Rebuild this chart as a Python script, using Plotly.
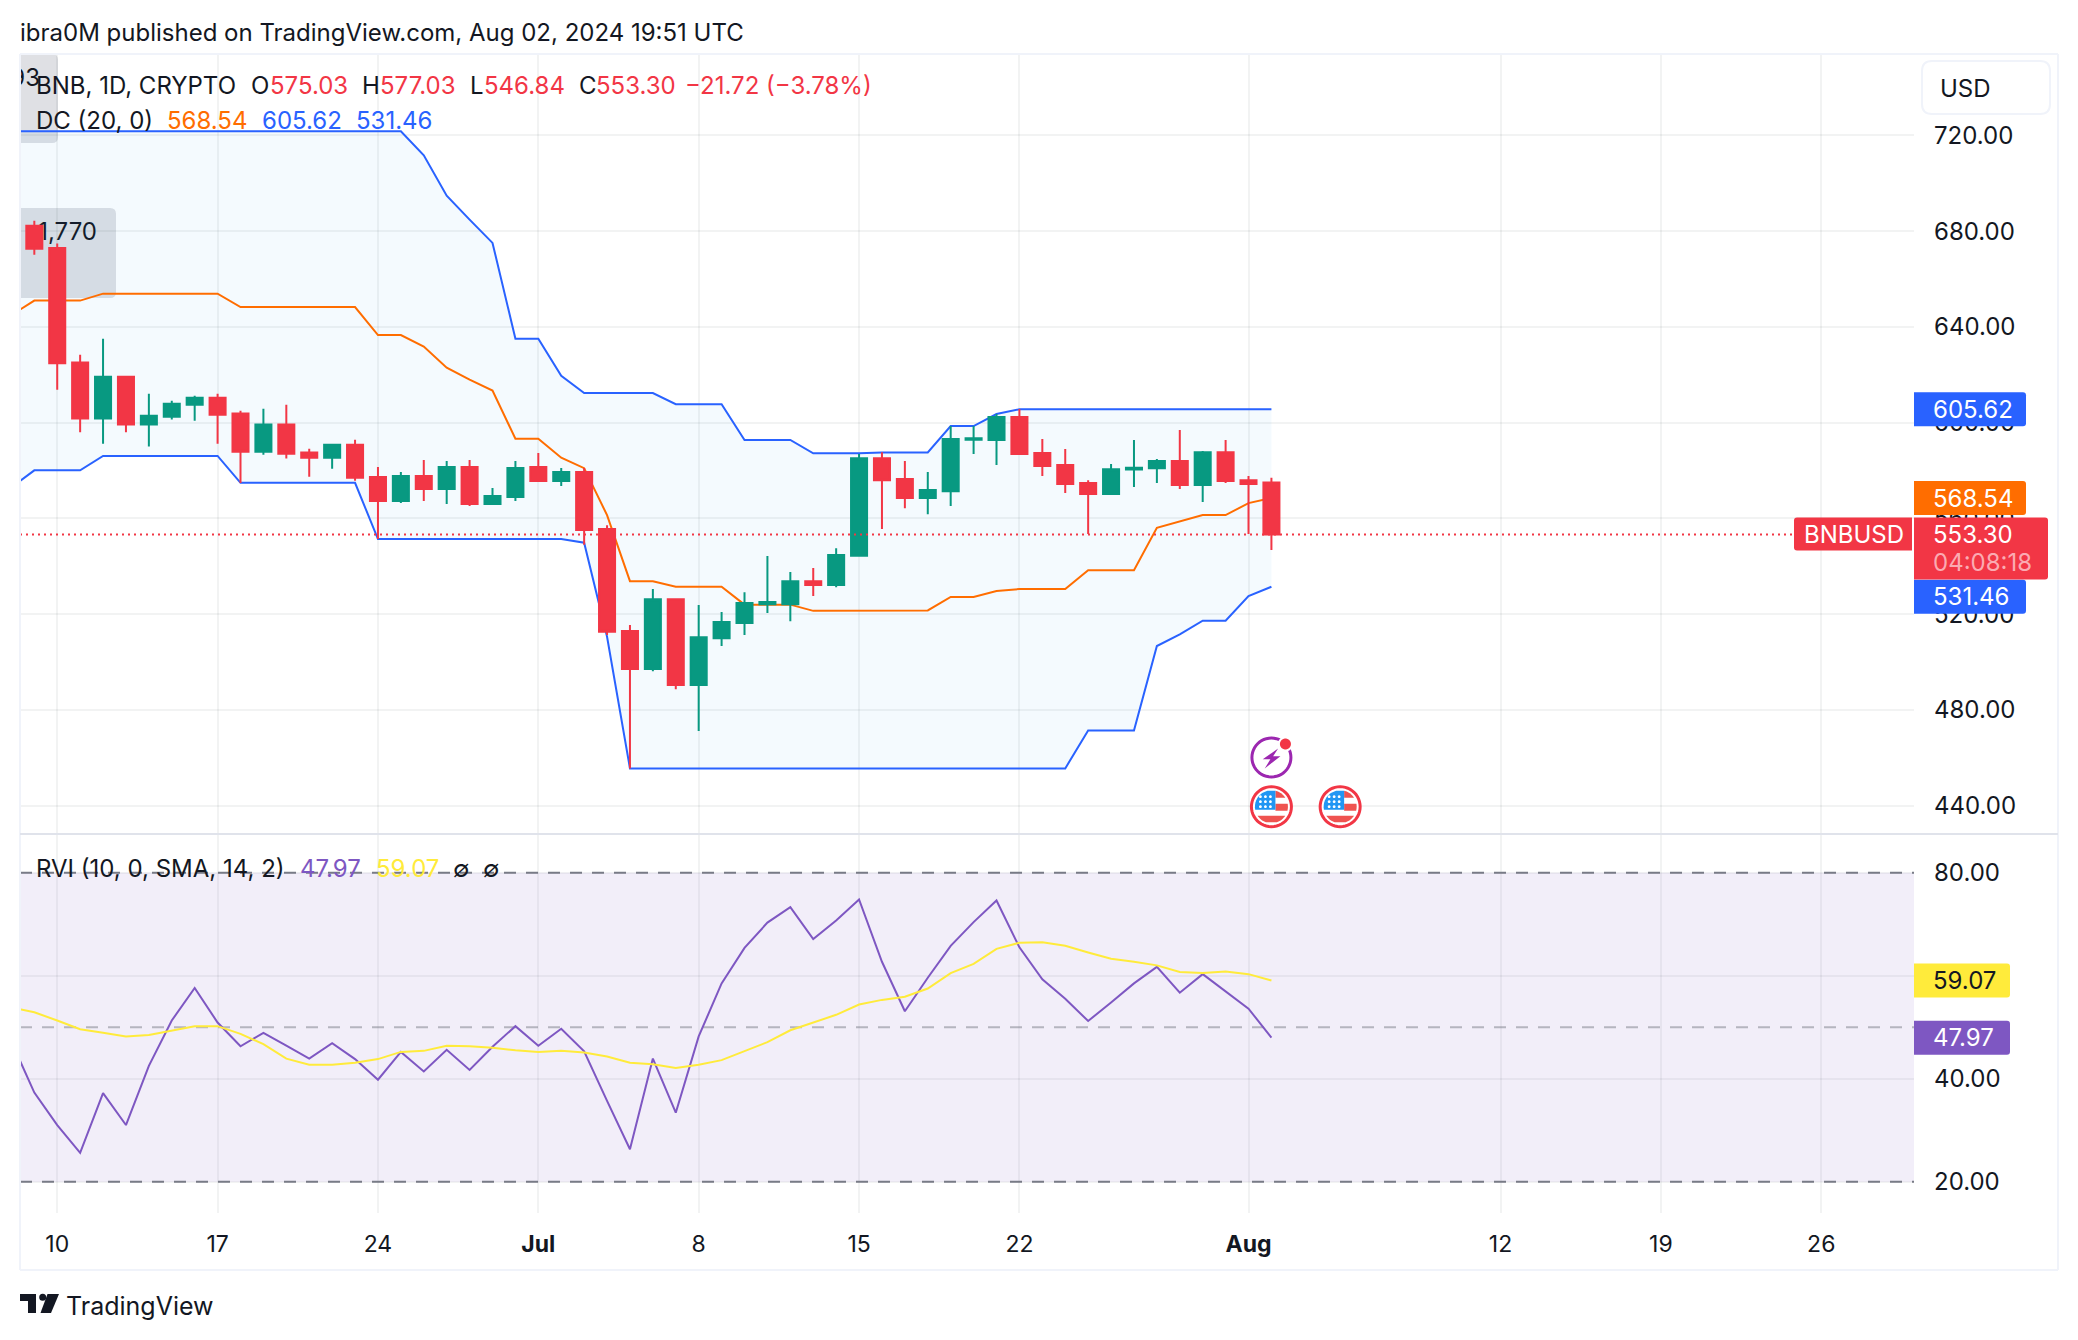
import numpy as np
import pandas as pd
import plotly.graph_objects as go

# daily values, Jun 8 to Aug 2 2024 (candles start on Jun 9)
dates = pd.date_range("2024-06-08", "2024-08-02", freq="D")

opens = [682.3, 673.0, 625.1, 601.7, 619.2, 599.2, 602.5, 607.5, 610.4, 603.8, 587.9, 599.2, 587.5, 585.4, 590.8,
         577.3, 567.3, 577.7, 572.3, 581.5, 566.0, 569.0,
         581.5, 575.6, 579.4, 555.6, 513.0, 497.1, 526.3, 490.4, 510.0, 516.3, 524.2, 524.2, 533.8, 532.2, 544.4,
         585.2, 576.5, 568.5, 571.4, 592.9, 592.8, 602.4, 587.3, 582.3, 574.8, 570.2, 580.5, 581.0, 584.0, 574.0,
         587.7, 576.0, 575.03]
highs = [684.4, 674.8, 628.4, 635.1, 619.6, 612.1, 609.2, 611.3, 612.1, 605.0, 605.8, 607.5, 589.1, 591.2, 592.9,
         581.5, 579.4, 584.4, 584.0, 584.4, 572.7, 584.0,
         587.3, 581.1, 581.1, 557.2, 515.5, 530.5, 526.7, 523.8, 520.9, 529.2, 544.3, 537.6, 539.3, 547.6, 586.9,
         587.7, 584.0, 579.4, 598.6, 598.6, 603.6, 605.7, 593.2, 589.0, 576.0, 582.7, 592.8, 584.8, 596.9, 588.2,
         592.8, 577.7, 577.03]
lows = [670.2, 613.8, 596.0, 591.2, 596.0, 590.1, 601.3, 600.8, 591.2, 574.8, 586.6, 585.0, 577.4, 580.8, 575.8,
        551.4, 566.5, 567.3, 566.0, 565.2, 566.0, 567.3,
        575.6, 573.6, 549.0, 511.3, 455.6, 496.2, 488.7, 471.2, 506.7, 511.3, 520.5, 517.1, 527.6, 531.3, 544.0,
        555.6, 564.3, 561.8, 565.2, 586.9, 582.3, 586.7, 577.7, 570.6, 553.5, 570.2, 573.1, 574.8, 572.3, 566.9,
        574.8, 553.5, 546.84]
closes = [672.7, 624.8, 601.7, 619.2, 599.2, 602.9, 607.9, 610.4, 603.3, 587.9, 599.2, 587.0, 585.4, 590.8, 577.0,
          567.3, 577.7, 572.3, 581.5, 566.0, 569.4, 581.1,
          575.6, 579.4, 555.2, 512.7, 497.1, 526.3, 490.4, 510.4, 516.7, 524.7, 525.1, 533.8, 532.2, 544.7, 585.2,
          576.0, 568.5, 571.9, 593.2, 593.5, 602.4, 586.9, 581.9, 574.4, 570.2, 580.6, 581.2, 584.0, 574.0, 587.7,
          575.6, 574.4, 553.30]

dc_upper = [721.7, 721.7, 721.7, 721.7, 721.7, 721.7, 721.7, 721.7, 721.7, 721.7, 721.7, 721.7, 721.7, 721.7, 721.7,
            721.7, 721.7, 721.7, 711.7, 694.8, 684.8, 675.1, 635.1,
            635.1, 619.6, 612.4, 612.4, 612.4, 612.4, 607.7, 607.7, 607.7, 592.8, 592.8, 592.8, 587.2, 587.2, 587.2,
            587.6, 587.6, 587.6, 598.6, 598.6, 603.6, 605.62, 605.62, 605.62, 605.62, 605.62, 605.62, 605.62, 605.62,
            605.62, 605.62, 605.62, 605.62]
dc_middle = [645.0, 651.0, 651.0, 651.0, 653.9, 653.9, 653.9, 653.9, 653.9, 653.9, 648.3, 648.3, 648.3, 648.3, 648.3,
             648.3, 636.6, 636.6, 631.8, 623.0, 618.0, 613.4, 593.3,
             593.3, 585.4, 581.0, 561.4, 533.8, 533.8, 531.5, 531.5, 531.5, 524.0, 524.0, 524.0, 521.4, 521.4, 521.4,
             521.6, 521.6, 521.6, 527.2, 527.2, 529.7, 530.5, 530.5, 530.5, 538.4, 538.4, 538.4, 556.1, 558.6, 561.4,
             561.4, 566.4, 568.54]
dc_lower = [573.0, 580.1, 580.1, 580.1, 586.1, 586.1, 586.1, 586.1, 586.1, 586.1, 574.9, 574.9, 574.9, 574.9, 574.9,
            574.9, 551.4, 551.4, 551.4, 551.4, 551.4, 551.4, 551.4,
            551.4, 551.4, 549.9, 510.6, 455.6, 455.6, 455.6, 455.6, 455.6, 455.6, 455.6, 455.6, 455.6, 455.6, 455.6,
            455.6, 455.6, 455.6, 455.6, 455.6, 455.6, 455.6, 455.6, 455.6, 471.4, 471.4, 471.4, 506.7, 511.6, 517.3,
            517.3, 527.6, 531.46]

rvi = [47.2, 37.3, 31.0, 25.6, 37.2, 31.0, 42.5, 51.3, 57.6, 50.9, 46.3, 48.9, 46.4, 43.9, 46.9, 43.8, 39.8, 45.2,
       41.4, 45.6, 41.7, 46.2, 50.2,
       46.4, 49.7, 45.3, 35.7, 26.3, 43.9, 33.4, 48.2, 58.5, 65.4, 70.3, 73.3, 67.1, 70.7, 74.8, 62.7, 53.1, 59.6,
       65.8, 70.4, 74.6, 65.5, 59.3, 55.5, 51.2, 54.8, 58.5, 61.7, 56.7, 60.3, 57.0, 53.6, 47.97]
rvi_ma = [53.8, 52.9, 51.3, 49.6, 48.9, 48.2, 48.5, 49.3, 50.2, 50.2, 48.7, 46.7, 43.9, 42.7, 42.7, 43.1, 43.8, 45.2,
          45.4, 46.4, 46.3, 46.0, 45.5,
          45.2, 45.4, 45.1, 44.3, 43.1, 42.8, 42.1, 42.7, 43.6, 45.4, 47.1, 49.4, 50.9, 52.4, 54.4, 55.3, 55.9, 57.5,
          60.5, 62.3, 65.2, 66.4, 66.5, 65.8, 64.5, 63.3, 62.7, 62.0, 60.7, 60.5, 60.8, 60.3, 59.07]

price_ticks = [440, 480, 520, 560, 600, 640, 680, 720]
rvi_ticks = [20, 40, 60, 80]
rvi_tick_labels = ["20.00", "40.00", "", "80.00"]  # 60.00 sits fully behind the yellow badge
time_ticks = ["2024-06-10", "2024-06-17", "2024-06-24", "2024-07-01", "2024-07-08", "2024-07-15", "2024-07-22",
              "2024-08-01", "2024-08-12", "2024-08-19", "2024-08-26"]
time_labels = ["10", "17", "24", "<b>Jul</b>", "8", "15", "22", "<b>Aug</b>", "12", "19", "26"]

RED = "#f23645"
GREEN = "#089981"
BLUE = "#2962ff"
ORANGE = "#ff6d00"
PURPLE = "#7e57c2"
YELLOW = "#ffeb3b"
INK = "#131722"
BORDER = "#f0f3fa"
GRID = "rgba(42,46,57,0.06)"
FONT = "Inter"
SIZE = 24

# the page has a default 8px body margin, so everything below is in window pixels minus that
PAGE = 8
W, H = 2062, 1324
LEFT, RIGHT, TOP, BOTTOM, SPLIT = 20, 1914, 54, 1213, 834
X_RANGE = ["2024-06-08 09:00", "2024-08-30 01:10"]


def px(x):
    return (x - LEFT) / (RIGHT - LEFT)


def py(y):
    return (BOTTOM - y) / (BOTTOM - TOP)


def label(x, y, text, color=INK, size=SIZE, yref="paper", xshift=0, yshift=0):
    fig.add_annotation(x=px(x), y=py(y) if yref == "paper" else y, xref="paper", yref=yref, text=text,
                       showarrow=False, xanchor="left", yanchor="middle", xshift=xshift, yshift=yshift,
                       borderpad=0, borderwidth=0, font=dict(family=FONT, size=size, color=color))


def poly(points):
    return "M" + " L".join(f"{a:.2f},{b:.2f}" for a, b in points) + " Z"


def circle(cx, cy, r):
    t = np.linspace(0, 2 * np.pi, 49)[:-1]
    return poly(list(zip(cx + r * np.cos(t), cy + r * np.sin(t))))


def in_circle(x0, x1, y0, y1, r):
    # rectangle clipped to a circle of radius r round the anchor
    ys = np.linspace(y0, y1, 9)
    ys = ys[np.abs(ys) < r]
    right = [(min(x1, np.sqrt(r * r - v * v)), v) for v in ys]
    left = [(max(x0, -np.sqrt(r * r - v * v)), v) for v in ys[::-1]]
    return poly(right + left)


def icon(path, x, y, fill, line=None, width=0):
    fig.add_shape(type="path", path=path, xref="x", yref="paper", xsizemode="pixel", ysizemode="pixel",
                  xanchor=x, yanchor=py(y), fillcolor=fill, layer="above",
                  line=dict(color=line or fill, width=width))


def axis_box(y, color, width, up=17, down=17, yref="y", shift=0):
    top, bot = up + shift, -down + shift
    path = (f"M0,{bot} L0,{top} L{width - 3},{top} Q{width},{top} {width},{top - 3} "
            f"L{width},{bot + 3} Q{width},{bot} {width - 3},{bot} Z")
    fig.add_shape(type="path", path=path, xref="paper", yref=yref, xsizemode="pixel", ysizemode="pixel",
                  xanchor=1, yanchor=y, fillcolor=color, line=dict(width=0), layer="above")


def rounded(x0, y0, x1, y1, fill, line=None, layer="below", r=6, square_left=False):
    a, b, c, d = px(x0), py(y0), px(x1), py(y1)
    rx, ry = r / (RIGHT - LEFT), r / (BOTTOM - TOP)
    if square_left:
        left = f"L{a},{d} L{a},{b} "
        start = f"M{a},{b} "
    else:
        left = f"L{a + rx},{d} Q{a},{d} {a},{d + ry} L{a},{b - ry} Q{a},{b} {a + rx},{b} "
        start = f"M{a + rx},{b} "
    path = start + f"L{c - rx},{b} Q{c},{b} {c},{b - ry} L{c},{d + ry} Q{c},{d} {c - rx},{d} " + left + "Z"
    fig.add_shape(type="path", path=path, xref="paper", yref="paper", fillcolor=fill, layer=layer,
                  line=dict(color=line or fill, width=2 if line else 0))


fig = go.Figure()

# clipped leftovers of the floating labels, under the candles
fig.add_trace(go.Scatter(x=["2024-06-09 06:00"], y=[743.0], mode="text", text=["93"], textposition="middle left",
                         textfont=dict(family=FONT, size=SIZE, color=INK), hoverinfo="skip"))
fig.add_trace(go.Scatter(x=["2024-06-11 17:40"], y=[678.8], mode="text", text=["-1,770"], textposition="middle left",
                         textfont=dict(family=FONT, size=SIZE, color=INK), hoverinfo="skip"))

# Donchian channel
fig.add_trace(go.Scatter(x=dates, y=dc_lower, mode="lines", line=dict(color=BLUE, width=2), hoverinfo="skip"))
fig.add_trace(go.Scatter(x=dates, y=dc_upper, mode="lines", line=dict(color=BLUE, width=2), fill="tonexty",
                         fillcolor="rgba(33,150,243,0.05)", hoverinfo="skip"))
fig.add_trace(go.Scatter(x=dates, y=dc_middle, mode="lines", line=dict(color=ORANGE, width=2), hoverinfo="skip"))

# candles sit on an overlaying axis, otherwise the channel lines would be drawn over them
fig.add_trace(go.Candlestick(x=dates[1:], open=opens, high=highs, low=lows, close=closes, yaxis="y3",
                             whiskerwidth=0,
                             increasing=dict(line=dict(color=GREEN, width=2), fillcolor=GREEN),
                             decreasing=dict(line=dict(color=RED, width=2), fillcolor=RED)))

# RVI pane
fig.add_trace(go.Scatter(x=dates, y=rvi, mode="lines", yaxis="y2", line=dict(color=PURPLE, width=2), hoverinfo="skip"))
fig.add_trace(go.Scatter(x=dates, y=rvi_ma, mode="lines", yaxis="y2", line=dict(color=YELLOW, width=2),
                         hoverinfo="skip"))

split = py(SPLIT)
price_range = [428.2, 754.0]
tick_font = dict(family=FONT, size=SIZE, color=INK)
fig.update_layout(
    width=W, height=H, paper_bgcolor="white", plot_bgcolor="white", showlegend=False, boxgap=0.3, boxgroupgap=0,
    margin=dict(l=LEFT - PAGE, r=W + PAGE - RIGHT, t=TOP - PAGE, b=H + PAGE - BOTTOM, pad=0, autoexpand=False),
    font=dict(family=FONT, color=INK),
    xaxis=dict(type="date", range=X_RANGE, anchor="y2", rangeslider=dict(visible=False),
               tickmode="array", tickvals=time_ticks, ticktext=time_labels, tickangle=0, showgrid=True, gridcolor=GRID,
               gridwidth=2, showline=False, zeroline=False, ticks="", ticklabelstandoff=15,
               tickfont=dict(family=FONT, size=23, color=INK)),
    yaxis=dict(domain=[split, 1], range=price_range, side="right", anchor="x", tickmode="array", tickvals=price_ticks,
               tickformat=".2f", showgrid=True, gridcolor=GRID, gridwidth=2, zeroline=False, ticks="",
               ticklabelstandoff=19, tickfont=tick_font),
    yaxis2=dict(domain=[0, split], range=[13.92, 87.51], side="right", anchor="x", tickmode="array", tickvals=rvi_ticks,
                ticktext=rvi_tick_labels, showgrid=True, gridcolor=GRID, gridwidth=2, zeroline=False, ticks="",
                ticklabelstandoff=19, tickfont=tick_font),
    yaxis3=dict(overlaying="y", range=price_range, visible=False, side="right", anchor="x"),
)

# grey floating labels at the left edge
rounded(20, 54, 58, 143, "#dfe0e4", square_left=True)
rounded(20, 208, 116, 298, "#dfe0e4", square_left=True)

# RVI band, x and y refs so that it lands between the grid and the traces
fig.add_shape(type="rect", xref="x", x0=X_RANGE[0], x1=X_RANGE[1], yref="y2", y0=20, y1=80,
              fillcolor="rgba(126,87,194,0.1)", line=dict(width=0), layer="between")
for level, col in [(80, "#787b86"), (50, "rgba(120,123,134,0.5)"), (20, "#787b86")]:
    fig.add_shape(type="line", xref="x", x0=X_RANGE[0], x1=X_RANGE[1], yref="y2", y0=level, y1=level, layer="between",
                  line=dict(color=col, width=2, dash="12px,10px"))

# last price line
fig.add_shape(type="line", xref="paper", x0=0, x1=px(1794), yref="y", y0=closes[-1], y1=closes[-1], layer="above",
              line=dict(color=RED, width=2, dash="2px,4px"))

# pane frame
for x0, y0, x1, y1, col in [(20, 54, 2058, 54, BORDER), (20, 54, 20, 1270, BORDER), (2058, 54, 2058, 1270, BORDER),
                            (20, 1270, 2058, 1270, BORDER), (20, SPLIT, 2058, SPLIT, "#e0e3eb")]:
    fig.add_shape(type="line", xref="paper", yref="paper", x0=px(x0), x1=px(x1), y0=py(y0), y1=py(y1),
                  layer="above", line=dict(color=col, width=2))

# USD button
rounded(1922, 61, 2050, 114, "white", line=BORDER, layer="above", r=10)
label(1940, 88, "USD")

# price scale badges
axis_box(dc_upper[-1], BLUE, 112)
label(RIGHT, dc_upper[-1], f"{dc_upper[-1]:.2f}", "white", yref="y", xshift=19)
axis_box(dc_middle[-1], ORANGE, 112)
label(RIGHT, dc_middle[-1], f"{dc_middle[-1]:.2f}", "white", yref="y", xshift=19)
axis_box(dc_lower[-1], BLUE, 112, shift=-10)
label(RIGHT, dc_lower[-1], f"{dc_lower[-1]:.2f}", "white", yref="y", xshift=19, yshift=-10)
axis_box(closes[-1], RED, 134, up=17, down=45)
label(RIGHT, closes[-1], f"{closes[-1]:.2f}", "white", yref="y", xshift=19)
label(RIGHT, closes[-1], "04:08:18", "#fbaab2", yref="y", xshift=19, yshift=-28)
fig.add_shape(type="path", path="M-2,17 L-117,17 Q-120,17 -120,14 L-120,-13 Q-120,-16 -117,-16 L-2,-16 Z", xref="paper",
              yref="y", xsizemode="pixel", ysizemode="pixel", xanchor=1, yanchor=closes[-1], fillcolor=RED,
              line=dict(width=0), layer="above")
label(RIGHT, closes[-1], "BNBUSD", "white", yref="y", xshift=-110)

# RVI scale badges
axis_box(rvi_ma[-1], YELLOW, 96, yref="y2")
label(RIGHT, rvi_ma[-1], f"{rvi_ma[-1]:.2f}", INK, yref="y2", xshift=19)
axis_box(rvi[-1], PURPLE, 96, yref="y2")
label(RIGHT, rvi[-1], f"{rvi[-1]:.2f}", "white", yref="y2", xshift=19)

# header and legends
label(20, 32.5, "ibra0M published on TradingView.com, Aug 02, 2024 19:51 UTC")
label(36, 86, "BNB, 1D, CRYPTO")
for x, head, x2, val in [(251, "O", 270, opens[-1]), (362, "H", 380, highs[-1]), (470, "L", 484, lows[-1]),
                         (579, "C", 596, closes[-1])]:
    label(x, 86, head)
    label(x2, 86, f"{val:.2f}", RED)
label(685, 86, "\u221221.72 (\u22123.78%)", RED)
label(36, 120, "DC (20, 0)")
label(167, 120, f"{dc_middle[-1]:.2f}", ORANGE)
label(262, 120, f"{dc_upper[-1]:.2f}", BLUE)
label(356, 120, f"{dc_lower[-1]:.2f}", BLUE)
label(36, 868, "RVI (10, 0, SMA, 14, 2)")
label(300, 868, f"{rvi[-1]:.2f}", PURPLE)
label(376, 868, f"{rvi_ma[-1]:.2f}", YELLOW)
label(453, 868, "\u2205")
label(483, 868, "\u2205")

# TradingView mark: points are window pixels
for pts in [[(20, 1294), (36, 1294), (36, 1313), (28, 1313), (28, 1301), (20, 1301)],
            [(47.5, 1294), (59, 1294), (51, 1313), (40.5, 1313)]]:
    a = " L".join(f"{px(p):.5f},{py(q):.5f}" for p, q in pts)
    fig.add_shape(type="path", path=f"M{a} Z", xref="paper", yref="paper", fillcolor=INK, line=dict(width=0))
fig.add_shape(type="circle", xref="paper", yref="paper", x0=px(39.2), x1=px(46.2), y0=py(1300.8), y1=py(1293.8),
              fillcolor=INK, line=dict(width=0))
label(66, 1306, "TradingView", size=25)

# economic event icons
bolt = poly([(6.7, 9), (-8.7, -1.7), (-1, -1.7), (-6.7, -11), (9, 1.3), (1.7, 1.3)])
icon(circle(0, 0, 19.5), "2024-08-02", 757.5, "white", "#9c27b0", 3)
icon(bolt, "2024-08-02", 757.5, "#9c27b0")
icon(circle(14, 13.5, 7.5), "2024-08-02", 757.5, "white")
icon(circle(14, 13.5, 5.5), "2024-08-02", 757.5, RED)

stars = " ".join(circle(a, b, 1.4) for a in [-11, -6, -1] for b in [10, 5, 0])
for day in ["2024-08-02", "2024-08-05"]:
    icon(circle(0, 0, 20), day, 806.7, "white", RED, 3)
    icon(in_circle(4, 17, 9, 16, 16.5), day, 806.7, "#ef5350")
    icon(in_circle(4, 17, -4, 3, 16.5), day, 806.7, "#ef5350")
    icon(in_circle(-17, 17, -16.5, -9, 16.5), day, 806.7, "#ef5350")
    icon(in_circle(-17, 4, -3, 16, 16.5), day, 806.7, "#2196f3")
    icon(stars, day, 806.7, "white")

fig.write_html("out.html")
